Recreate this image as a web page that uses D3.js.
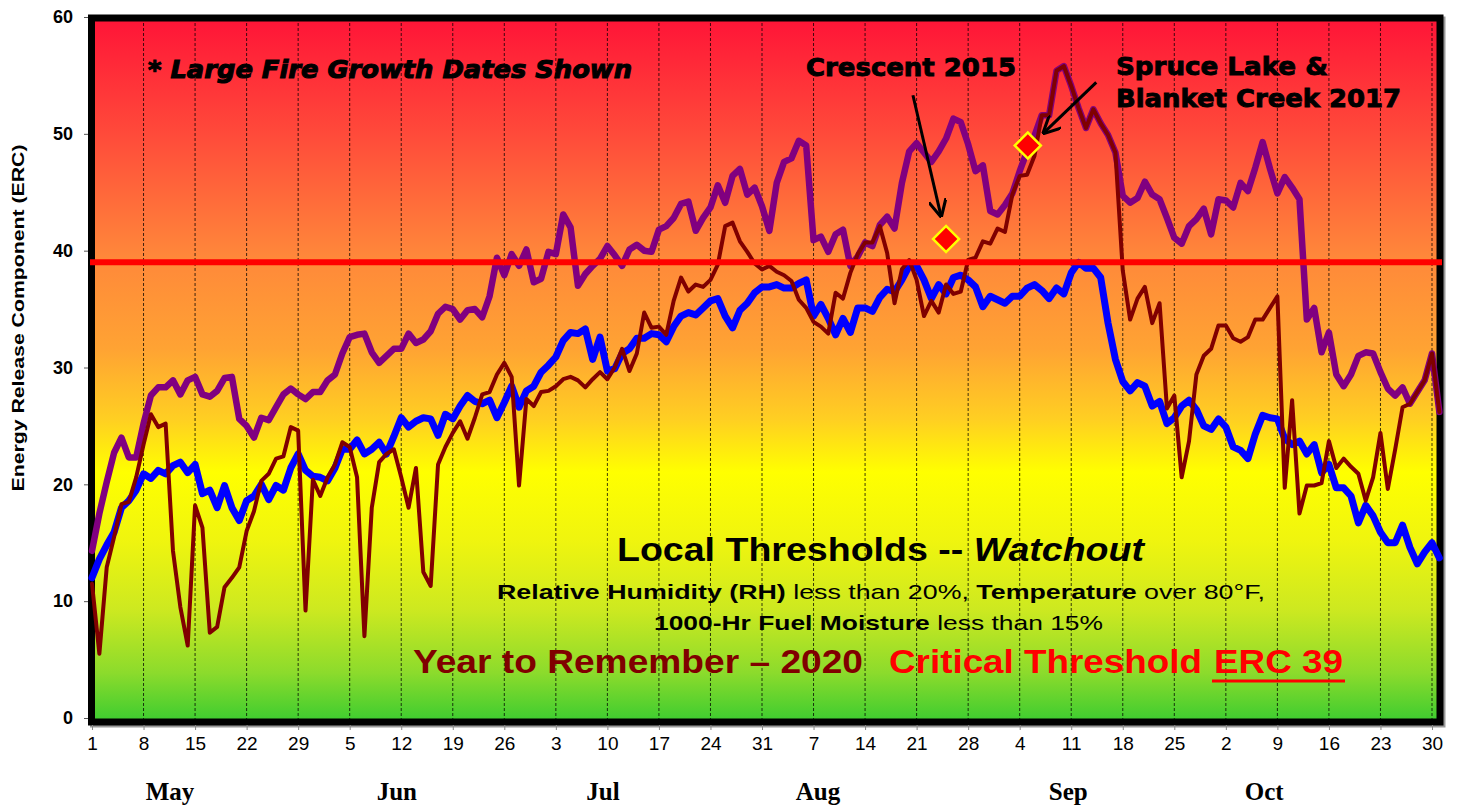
<!DOCTYPE html>
<html>
<head>
<meta charset="utf-8">
<script src="https://cdn.jsdelivr.net/npm/d3@7"></script>
<style>
  body { margin: 0; background: #fff; }
  svg { display: block; }
</style>
</head>
<body>
<svg width="1462" height="808"></svg>
<script>
// daily ERC, May 1 .. Oct 31
const ercHigh = [
  14.3, 17.5, 20.2, 22.7, 24.0, 22.3, 22.3, 25.2, 27.6, 28.3,
  28.3, 28.9, 27.7, 28.9, 29.2, 27.7, 27.5, 28.0, 29.1, 29.2,
  25.6, 25.0, 24.0, 25.7, 25.5, 26.6, 27.7, 28.2, 27.7, 27.3,
  27.9, 27.9, 28.9, 29.4, 31.2, 32.6, 32.8, 32.9, 31.3, 30.4,
  31.0, 31.6, 31.6, 32.9, 32.1, 32.4, 33.1, 34.6, 35.2, 35.0,
  34.1, 34.9, 35.0, 34.3, 36.1, 39.4, 37.9, 39.7, 38.7, 40.1,
  37.3, 37.6, 39.9, 39.7, 43.1, 42.0, 37.0, 38.0, 38.7, 39.3,
  40.4, 39.6, 38.7, 40.1, 40.5, 40.0, 39.9, 41.8, 42.1, 42.8,
  44.0, 44.2, 41.7, 42.8, 43.7, 45.6, 44.1, 46.4, 47.0, 44.8,
  45.4, 43.8, 41.7, 45.8, 47.6, 47.9, 49.4, 49.0, 40.9, 41.2,
  39.9, 41.4, 41.8, 38.7, 39.5, 40.7, 40.4, 42.2, 42.9, 41.9,
  45.8, 48.5, 49.2, 48.4, 47.6, 48.5, 49.6, 51.3, 51.0, 49.1,
  46.8, 47.3, 43.4, 43.1, 43.9, 44.9, 46.8, 48.5, 49.8, 51.6,
  51.6, 55.4, 55.8, 54.1, 52.2, 50.5, 52.1, 50.9, 49.9, 48.4,
  44.7, 44.1, 44.5, 45.9, 44.8, 44.4, 42.8, 41.1, 40.6, 42.1,
  42.7, 43.6, 41.4, 44.4, 44.3, 43.7, 45.8, 45.1, 47.1, 49.3,
  47.0, 44.9, 46.3, 45.4, 44.4, 34.1, 35.1, 31.3, 33.0, 29.4,
  28.4, 29.4, 31.0, 31.3, 31.2, 29.6, 28.2, 27.6, 28.3, 26.9,
  27.9, 28.9, 31.2, 26.2
]

const ercAvg = [
  12.0, 13.6, 14.8, 15.9, 18.0, 18.6, 19.5, 20.9, 20.5, 21.2,
  20.9, 21.6, 21.9, 21.0, 21.7, 19.2, 19.5, 18.0, 19.9, 18.0,
  16.9, 18.6, 19.0, 20.0, 18.7, 19.9, 19.5, 21.4, 22.6, 21.2,
  20.7, 20.6, 20.3, 21.4, 23.0, 23.0, 23.8, 22.6, 23.0, 23.6,
  22.6, 24.1, 25.7, 24.9, 25.4, 25.7, 25.6, 24.2, 26.0, 25.6,
  26.7, 27.6, 27.1, 26.9, 27.2, 25.7, 27.0, 28.4, 26.6, 28.0,
  28.4, 29.6, 30.2, 30.9, 32.3, 33.0, 32.9, 33.3, 30.7, 32.6,
  29.7, 29.9, 31.2, 31.6, 32.5, 32.5, 32.9, 32.8, 32.2, 33.5,
  34.4, 34.7, 34.5, 35.1, 35.7, 35.9, 34.4, 33.4, 34.9, 35.5,
  36.4, 36.9, 36.9, 37.1, 36.8, 36.8, 37.2, 37.5, 34.4, 35.4,
  34.2, 32.8, 34.2, 33.0, 35.1, 35.1, 34.8, 36.0, 36.7, 36.5,
  37.5, 38.7, 38.7, 37.5, 35.9, 37.1, 36.3, 37.7, 37.9, 37.5,
  36.9, 35.2, 36.1, 35.8, 35.5, 36.1, 36.1, 36.8, 37.1, 36.6,
  35.9, 36.8, 36.3, 38.1, 39.0, 38.5, 38.5, 37.7, 33.8, 30.7,
  28.8, 28.0, 28.7, 28.4, 26.7, 27.1, 25.2, 25.7, 26.7, 27.2,
  26.4, 25.0, 24.7, 25.6, 24.9, 23.2, 22.9, 22.2, 24.3, 25.9,
  25.7, 25.6, 23.9, 23.4, 23.7, 22.6, 23.4, 21.0, 21.7, 19.7,
  19.7, 19.0, 16.7, 18.2, 17.3, 15.9, 15.0, 15.0, 16.5, 14.6,
  13.2, 14.2, 15.0, 13.7
]

const erc2020 = [
  11.5, 5.5, 12.9, 15.5, 18.3, 18.5, 20.6, 23.4, 26.0, 24.9,
  25.2, 14.3, 9.5, 6.2, 18.2, 16.3, 7.3, 7.8, 11.2, 12.0,
  12.9, 16.0, 17.7, 20.3, 20.9, 22.2, 22.4, 24.9, 24.6, 9.2,
  20.4, 19.0, 20.6, 21.7, 23.6, 23.2, 20.6, 7.0, 18.0, 21.9,
  22.6, 23.0, 20.6, 18.0, 21.4, 12.5, 11.3, 21.7, 23.2, 24.4,
  25.4, 23.9, 25.7, 27.7, 27.9, 29.4, 30.4, 29.2, 19.9, 27.3,
  26.7, 27.9, 28.0, 28.4, 29.0, 29.2, 28.9, 28.3, 29.0, 29.6,
  29.0, 30.0, 31.6, 29.7, 31.2, 34.7, 33.4, 33.5, 32.8, 35.7,
  37.7, 36.5, 37.1, 36.9, 37.5, 38.8, 42.1, 42.4, 40.8, 39.9,
  38.9, 38.4, 38.7, 38.2, 37.9, 37.4, 35.8, 35.1, 33.9, 33.5,
  32.9, 36.4, 35.9, 38.1, 39.7, 40.7, 40.7, 42.1, 39.8, 35.5,
  38.4, 39.2, 37.5, 34.4, 35.7, 34.7, 37.1, 36.3, 36.5, 39.2,
  39.4, 40.8, 40.6, 41.9, 41.6, 44.8, 46.4, 46.5, 48.1, 51.6,
  51.6, 55.4, 55.8, 54.1, 52.2, 50.5, 52.1, 50.9, 49.9, 48.4,
  38.3, 34.1, 35.9, 36.9, 33.8, 35.5, 26.5, 27.6, 20.6, 23.7,
  29.4, 31.0, 31.6, 33.6, 33.6, 32.5, 32.2, 32.6, 34.1, 34.1,
  35.1, 36.1, 19.7, 27.2, 17.5, 19.9, 19.9, 20.1, 23.7, 21.4,
  22.2, 21.5, 20.9, 18.6, 20.6, 24.4, 19.6, 23.0, 26.6, 26.9,
  27.9, 28.9, 31.2, 26.2
]

const tickDays = d3.range(0, 183, 7)
const tickLabels = ['1', '8', '15', '22', '29', '5', '12', '19', '26', '3', '10', '17', '24', '31',
  '7', '14', '21', '28', '4', '11', '18', '25', '2', '9', '16', '23', '30']
const yTicks = [0, 10, 20, 30, 40, 50, 60]
const monthNames = ['May', 'Jun', 'Jul', 'Aug', 'Sep', 'Oct']
const monthCenters = [10.6, 41.4, 69.4, 98.6, 132.6, 159.2]
const threshold = 39

// large fire growth dates (day index, erc)
const fireDays = [116, 127.1]
const fireErc = [41, 49]

const svg = d3.select('svg')
const x = d3.scaleLinear().domain([0, 182]).range([92, 1432])
const y = d3.scaleLinear().domain([0, 60]).range([718, 17])

const sans = '"Liberation Sans", Arial, sans-serif'
const heavy = '"DejaVu Sans", "Liberation Sans", sans-serif'

// background gradient
const defs = svg.append('defs')
const grad = defs.append('linearGradient').attr('id', 'bg')
  .attr('x1', 0).attr('y1', 0).attr('x2', 0).attr('y2', 1)
const stops = [
  [0, '#ff1437'], [0.17, '#ff4c3a'], [0.34, '#ff883a'], [0.47, '#ffa333'],
  [0.57, '#ffcf22'], [0.645, '#ffff00'], [0.74, '#f0f50e'], [0.84, '#cde920'],
  [0.93, '#8cdb2c'], [1, '#3ccc30']
]
grad.selectAll('stop').data(stops).join('stop')
  .attr('offset', d => d[0]).attr('stop-color', d => d[1])

defs.append('marker').attr('id', 'head')
  .attr('viewBox', '0 0 10 10').attr('refX', 9).attr('refY', 5)
  .attr('markerWidth', 18).attr('markerHeight', 18)
  .attr('markerUnits', 'userSpaceOnUse').attr('orient', 'auto')
  .append('path').attr('d', 'M0,0 L10,5 L0,10')
  .attr('fill', 'none').attr('stroke', '#000').attr('stroke-width', 1.7)

const fx0 = 91.5, fy0 = 18, fx1 = 1440, fy1 = 722

svg.append('rect')
  .attr('x', fx0 + 2).attr('y', fy0 + 2).attr('width', fx1 - fx0).attr('height', fy1 - fy0)
  .attr('fill', 'none').attr('stroke', '#9a9a9a').attr('stroke-width', 7)

svg.append('rect')
  .attr('x', fx0).attr('y', fy0).attr('width', fx1 - fx0).attr('height', fy1 - fy0)
  .attr('fill', 'url(#bg)')

svg.append('g').selectAll('line').data(tickDays.slice(1)).join('line')
  .attr('x1', d => x(d)).attr('x2', d => x(d))
  .attr('y1', fy0).attr('y2', fy1)
  .attr('stroke', '#000').attr('stroke-width', 1)
  .attr('stroke-dasharray', '3,2').attr('opacity', 0.75)

svg.append('rect')
  .attr('x', fx0).attr('y', fy0).attr('width', fx1 - fx0).attr('height', fy1 - fy0)
  .attr('fill', 'none').attr('stroke', '#000').attr('stroke-width', 7)

// axes
const gy = svg.append('g').attr('transform', 'translate(88,0)')
  .call(d3.axisLeft(y).tickValues(yTicks).tickSize(4).tickPadding(11))
gy.select('.domain').remove()
gy.selectAll('line').attr('stroke', '#555')
gy.selectAll('text')
  .attr('font-family', sans).attr('font-weight', 'bold').attr('font-size', 18).attr('fill', '#000')

const gx = svg.append('g').attr('transform', 'translate(0,725)')
  .call(d3.axisBottom(x).tickValues(tickDays).tickFormat((d, i) => tickLabels[i]).tickSize(5).tickPadding(7))
gx.select('.domain').remove()
gx.selectAll('line').attr('stroke', '#888')
gx.selectAll('text')
  .attr('font-family', '"Liberation Sans Narrow", "Arial Narrow", ' + sans)
  .attr('font-size', 19).attr('fill', '#000')

svg.append('g').selectAll('text').data(monthNames).join('text')
  .attr('x', (d, i) => x(monthCenters[i])).attr('y', 800)
  .attr('text-anchor', 'middle')
  .attr('font-family', '"Liberation Serif", "Times New Roman", serif')
  .attr('font-weight', 'bold').attr('font-size', 25)
  .text(d => d)

svg.append('text')
  .attr('transform', 'translate(24,318) rotate(-90)')
  .attr('text-anchor', 'middle')
  .attr('font-family', sans).attr('font-weight', 'bold').attr('font-size', 16)
  .attr('textLength', 347).attr('lengthAdjust', 'spacingAndGlyphs')
  .text('Energy Release Component (ERC)')

// series
const line = d3.line().x((d, i) => x(i)).y(d => y(d))
const series = [
  { values: ercHigh, color: '#800080', width: 6.5 },
  { values: ercAvg, color: '#0000ff', width: 7 },
  { values: erc2020, color: '#800000', width: 4 }
]
svg.append('g').selectAll('path').data(series).join('path')
  .attr('d', d => line(d.values))
  .attr('fill', 'none')
  .attr('stroke', d => d.color)
  .attr('stroke-width', d => d.width)
  .attr('stroke-linejoin', 'round')
  .attr('stroke-linecap', 'round')

svg.append('line')
  .attr('x1', 90).attr('x2', 1442)
  .attr('y1', y(threshold)).attr('y2', y(threshold))
  .attr('stroke', '#ff0000').attr('stroke-width', 6)

// arrows to the fire markers
const arrows = [
  { from: [111.5, 53.3], to: [115.3, 43.0] },
  { from: [136.4, 54.4], to: [129.3, 50.1] }
]
svg.append('g').selectAll('line').data(arrows).join('line')
  .attr('x1', d => x(d.from[0])).attr('y1', d => y(d.from[1]))
  .attr('x2', d => x(d.to[0])).attr('y2', d => y(d.to[1]))
  .attr('stroke', '#000').attr('stroke-width', 3)
  .attr('marker-end', 'url(#head)')

svg.append('g').selectAll('path').data(fireDays).join('path')
  .attr('d', d3.symbol(d3.symbolSquare, 340))
  .attr('transform', (d, i) => `translate(${x(d)},${y(fireErc[i])}) rotate(45)`)
  .attr('fill', '#ff0000').attr('stroke', '#ffff00').attr('stroke-width', 2.5)

// annotation text
const label = (txt, px, py, len, opts = {}) => svg.append('text')
  .attr('x', px).attr('y', py)
  .attr('font-family', opts.family || heavy)
  .attr('font-weight', 'bold')
  .attr('font-style', opts.italic ? 'italic' : 'normal')
  .attr('font-size', opts.size || 24)
  .attr('fill', opts.color || '#000')
  .attr('stroke', opts.thick ? (opts.color || '#000') : 'none')
  .attr('stroke-width', opts.thick || 0)
  .attr('textLength', len).attr('lengthAdjust', 'spacingAndGlyphs')
  .text(txt)

label('* Large Fire Growth Dates Shown', 148, 78, 484, { italic: true, thick: 1.1, size: 25 })
label('Crescent 2015', 806, 76, 210, { thick: 0.9, size: 25 })
label('Spruce Lake &', 1116, 75, 212, { thick: 0.9, size: 25 })
label('Blanket Creek 2017', 1116, 107, 285, { thick: 0.9, size: 25 })

const lt = svg.append('text').attr('x', 617).attr('y', 561)
  .attr('font-family', sans).attr('font-weight', 'bold').attr('font-size', 34)
  .attr('textLength', 527).attr('lengthAdjust', 'spacingAndGlyphs')
lt.append('tspan').text('Local Thresholds -- ')
lt.append('tspan').attr('font-style', 'italic').text('Watchout')

const rh = svg.append('text').attr('x', 497).attr('y', 599)
  .attr('font-family', sans).attr('font-size', 21)
  .attr('textLength', 768).attr('lengthAdjust', 'spacingAndGlyphs')
rh.append('tspan').attr('font-weight', 'bold').text('Relative Humidity (RH)')
rh.append('tspan').text(' less than 20%, ')
rh.append('tspan').attr('font-weight', 'bold').text('Temperature')
rh.append('tspan').text(' over 80°F,')

const fm = svg.append('text').attr('x', 654).attr('y', 630)
  .attr('font-family', sans).attr('font-size', 21)
  .attr('textLength', 449).attr('lengthAdjust', 'spacingAndGlyphs')
fm.append('tspan').attr('font-weight', 'bold').text('1000-Hr Fuel Moisture')
fm.append('tspan').text(' less than 15%')

label('Year to Remember \u2013 2020', 413, 673, 450, { family: sans, size: 34, color: '#800000' })
label('Critical Threshold', 889, 673, 313, { family: sans, size: 34, color: '#ff0000' })
label('ERC 39', 1214, 673, 129, { family: sans, size: 34, color: '#ff0000' })
svg.append('line')
  .attr('x1', 1212).attr('x2', 1345).attr('y1', 681).attr('y2', 681)
  .attr('stroke', '#ff0000').attr('stroke-width', 3)
</script>
</body>
</html>
